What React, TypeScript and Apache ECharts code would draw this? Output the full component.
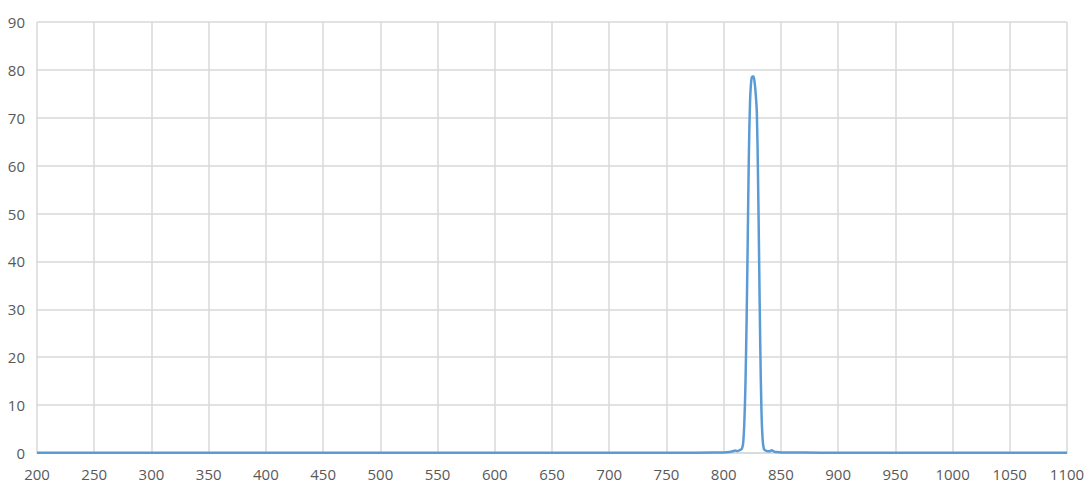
import React, { useEffect, useRef } from "react";
import * as echarts from "echarts";

const wavelengths = [
  200, 300, 400, 500, 600, 700, 760, 790, 800, 805, 808, 810, 812, 814, 815, 816, 817, 818, 819, 820,
  821, 822, 823, 824, 825, 826, 827, 828, 829, 830, 831, 832, 833, 834, 835, 836, 838, 840, 842, 844,
  846, 850, 870, 900, 950, 1000, 1050, 1100,
];
const transmission = [
  0.05, 0.05, 0.05, 0.05, 0.05, 0.05, 0.05, 0.08, 0.1, 0.2, 0.35, 0.5, 0.4, 0.6, 0.7, 0.9, 2, 6, 14, 27,
  44, 62, 73, 77.5, 78.6, 78.6, 77.5, 75, 71, 58, 40, 22, 9, 3, 1, 0.6, 0.4, 0.35, 0.6, 0.3,
  0.2, 0.1, 0.08, 0.05, 0.05, 0.05, 0.05, 0.05,
];

const xMin = 200;
const xMax = 1100;
const xStep = 50;
const yMin = 0;
const yMax = 90;
const yStep = 10;

export default function App() {
  const ref = useRef<HTMLDivElement>(null);
  useEffect(() => {
    document.body.style.margin = "0";
    const chart = echarts.init(ref.current!, null, { renderer: "svg" });
    const labelStyle = { color: "#595959", fontSize: 15, fontFamily: "Open Sans" };
    chart.setOption({
      animation: false,
      backgroundColor: "#ffffff",
      grid: { left: 37, right: 23, top: 22, bottom: 38, containLabel: false },
      xAxis: {
        type: "value",
        min: xMin,
        max: xMax,
        interval: xStep,
        axisLine: { show: true, lineStyle: { color: "#d9d9d9", width: 1.5 } },
        axisTick: { show: false },
        axisLabel: { ...labelStyle, margin: 13, formatter: (v: number) => String(v) },
        splitLine: { show: true, lineStyle: { color: "#d9d9d9", width: 1.5 } },
      },
      yAxis: {
        type: "value",
        min: yMin,
        max: yMax,
        interval: yStep,
        axisLine: { show: false },
        axisTick: { show: false },
        axisLabel: { ...labelStyle, margin: 12, formatter: (v: number) => String(v) },
        splitLine: { show: true, lineStyle: { color: "#d9d9d9", width: 1.5 } },
      },
      series: [
        {
          type: "line",
          data: wavelengths.map((w, i) => [w, transmission[i]]),
          showSymbol: false,
          smooth: 0.3,
          lineStyle: { color: "#5b9bd5", width: 2.5 },
          itemStyle: { color: "#5b9bd5" },
        },
      ],
    });
    return () => chart.dispose();
  }, []);
  return <div ref={ref} style={{ width: 1090, height: 491 }} />;
}
